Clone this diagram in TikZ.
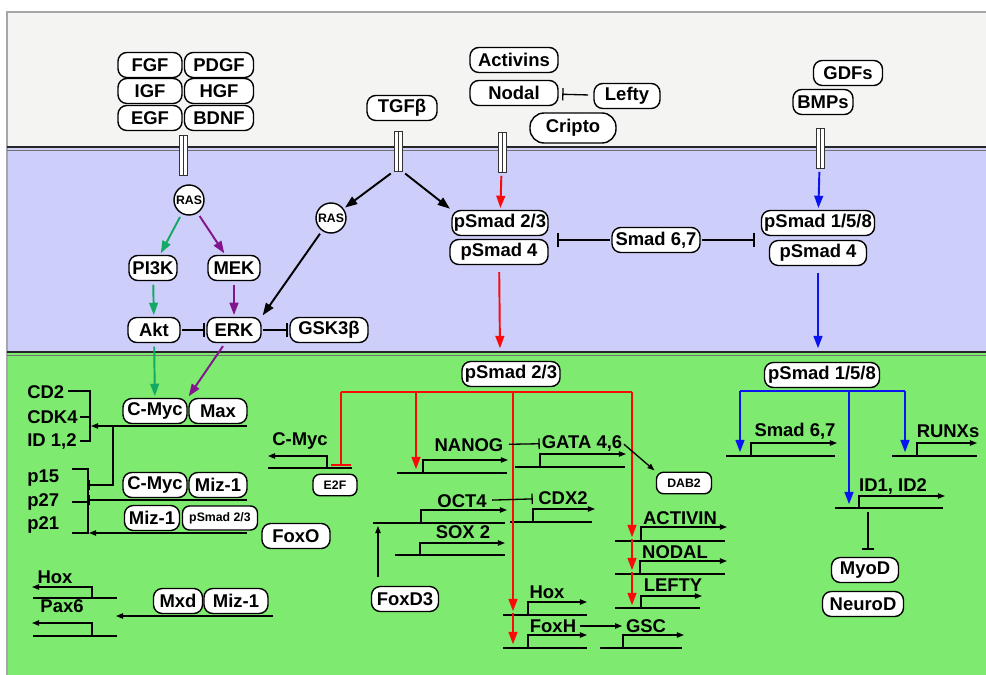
\documentclass[tikz,border=0pt]{standalone}
\usepackage{fontspec}
\setmainfont{Liberation Sans}
\usetikzlibrary{arrows.meta}
\definecolor{BGtop}{RGB}{244,244,242}
\definecolor{BGcyt}{RGB}{206,206,250}
\definecolor{BGnuc}{RGB}{126,234,112}
\definecolor{CG}{RGB}{20,170,100}
\definecolor{CP}{RGB}{130,20,140}
\definecolor{CR}{RGB}{250,10,10}
\definecolor{CB}{RGB}{10,20,240}

\begin{document}
\begin{tikzpicture}[x=0.02cm, y=-0.02cm,
  box/.style={draw, fill=white, rounded corners=5pt, line width=0.8pt, minimum height=0.5cm,
    inner sep=1pt, font=\fontsize{10.5}{12}\selectfont\bfseries},
  sbox/.style={box, font=\fontsize{7}{8}\selectfont\bfseries, minimum height=0.43cm, rounded corners=4pt},
  wd/.style={minimum width=#1*0.02cm},
  ras/.style={draw, fill=white, circle, line width=0.8pt, minimum size=0.6cm, inner sep=0pt,
    font=\fontsize{7}{8}\selectfont\bfseries},
  lbl/.style={font=\fontsize{10.5}{12}\selectfont\bfseries, inner sep=0pt},
  receptor/.style={draw=black!80, fill=white, line width=0.45pt, minimum width=0.16cm, minimum height=0.8cm,
    inner sep=0pt, path picture={\draw[black!80, line width=0.45pt] (path picture bounding box.north)
      -- (path picture bounding box.south);}},
  act/.style={-{Triangle[length=7pt,width=5pt]}, line width=1.1pt, shorten <=2pt, shorten >=1pt},
  inh/.style={-{Bar[width=8pt]}, line width=1.1pt, shorten <=1pt, shorten >=1pt},
  gline/.style={line width=0.75pt},
  thinact/.style={gline, -{Triangle[length=4pt,width=3pt]}},
  thininh/.style={gline, -{Bar[width=6pt]}},
]
\useasboundingbox (0,0) rectangle (986,675);
\fill[BGtop] (7,12) rectangle (986,148);
\fill[BGcyt] (7,148) rectangle (986,353);
\fill[BGnuc] (7,353) rectangle (986,675);
\draw[black!35, line width=0.6pt] (7,675) -- (7,12) -- (986,12);
\draw[black!85, line width=1pt] (7,147) -- (986,147);
\draw[black!55, line width=0.6pt] (7,150.5) -- (986,150.5);
\draw[black!85, line width=1pt] (7,352) -- (986,352);
\draw[black!55, line width=0.6pt] (7,355.5) -- (986,355.5);

\node[box, wd=64] (fgf) at (150,65) {FGF};
\node[box, wd=69] (pdgf) at (219,65) {PDGF};
\node[box, wd=64] (igf) at (150,91) {IGF};
\node[box, wd=69] (hgf) at (219,91) {HGF};
\node[box, wd=64] (egf) at (150,118) {EGF};
\node[box, wd=69] (bdnf) at (219,118) {BDNF};
\node[box, wd=70] (tgfb) at (402,108) {TGFβ};
\node[box, wd=88] (actv) at (514,60) {Activins};
\node[box, wd=88] (nodal) at (514,93) {Nodal};
\node[box, wd=66] (lefty) at (627,96) {Lefty};
\node[box, wd=86, minimum height=0.6cm, rounded corners=8pt] (cripto) at (573,128) {Cripto};
\node[box, wd=69] (gdf) at (848,73) {GDFs};
\node[box, wd=60] (bmp) at (823,102) {BMPs};

\node[receptor] (rec1) at (183,155) {};
\node[receptor] (rec2) at (398,151) {};
\node[receptor] (rec3) at (502,152) {};
\node[receptor] (rec4) at (820,148) {};

\node[ras] (ras1) at (189,200) {RAS};
\node[ras] (ras2) at (331,218) {RAS};
\node[box, wd=48] (pi3k) at (153,268) {PI3K};
\node[box, wd=52] (mek) at (234,268) {MEK};
\node[box, wd=52] (akt) at (154,330) {Akt};
\node[box, wd=54] (erk) at (234,330) {ERK};
\node[box, wd=78] (gsk) at (329,330) {GSK3β};
\node[box, wd=96] (psA) at (500,223) {pSmad 2/3};
\node[box, wd=98] (ps4A) at (499,252) {pSmad 4};
\node[box, wd=88] (smad67) at (656,240) {Smad 6,7};
\node[box, wd=113] (psB) at (818,223) {pSmad 1/5/8};
\node[box, wd=97] (ps4B) at (818,253) {pSmad 4};

\node[box, wd=98] (psC) at (511,374) {pSmad 2/3};
\node[box, wd=115] (psD) at (822,375) {pSmad 1/5/8};
\node[box, wd=64] (cmyc1) at (155,411) {C-Myc};
\node[box, wd=58] (max) at (218,411) {Max};
\node[box, wd=64] (cmyc2) at (155,485) {C-Myc};
\node[box, wd=58] (miz1) at (218,485) {Miz-1};
\node[box, wd=55] (miz2) at (152,518) {Miz-1};
\node[sbox, wd=75, minimum height=0.48cm] (psE) at (220,518) {pSmad 2/3};
\node[box, wd=68] (foxo) at (296,536) {FoxO};
\node[box, wd=49] (mxd) at (178,601) {Mxd};
\node[box, wd=64] (miz3) at (236,601) {Miz-1};
\node[sbox, wd=44] (e2f) at (335,485) {E2F};
\node[sbox, wd=55] (dab2) at (684,483) {DAB2};
\node[box, wd=67] (foxd3) at (405,599) {FoxD3};
\node[box, wd=67] (myod) at (865,570) {MyoD};
\node[box, wd=81] (neurod) at (863,604) {NeuroD};

\node[lbl, anchor=west] (cd2) at (27,392) {CD2};
\node[lbl, anchor=west] (cdk4) at (27,417) {CDK4};
\node[lbl, anchor=west] (id12L) at (27,441) {ID 1,2};
\node[lbl, anchor=west] (p15) at (27,478) {p15};
\node[lbl, anchor=west] (p27) at (27,502) {p27};
\node[lbl, anchor=west] (p21) at (27,525) {p21};
\node[lbl] (hoxL) at (55,577) {Hox};
\node[lbl] (pax6) at (62,606) {Pax6};
\node[lbl] (cmycG) at (300,441) {C-Myc};
\node[lbl] (nanog) at (469,445) {NANOG};
\node[lbl] (gata) at (582,443) {GATA 4,6};
\node[lbl] (oct4) at (462,501) {OCT4};
\node[lbl] (cdx2) at (563,498) {CDX2};
\node[lbl] (sox2) at (463,532) {SOX 2};
\node[lbl] (hoxM) at (547,592) {Hox};
\node[lbl] (foxh) at (553,626) {FoxH};
\node[lbl] (gsc) at (646,626) {GSC};
\node[lbl] (activin) at (680,518) {ACTIVIN};
\node[lbl] (nodalG) at (675,552) {NODAL};
\node[lbl] (leftyG) at (673,585) {LEFTY};
\node[lbl] (smadG) at (795,431) {Smad 6,7};
\node[lbl] (runx) at (948,431) {RUNXs};
\node[lbl] (id12) at (893,486) {ID1, ID2};

\foreach \xa/\xb/\xp/\yb/\ya/\xe in {397/507/423/473/460/508, 515/625/540/467/454/626,
    373/505/421/523/510/507, 510/592/533/522/509/595, 395/505/420/555/543/505,
    503/587/528/615/602/587, 503/587/528/648/635/587, 600/682/623/648/635/684,
    615/725/641/541/527/727, 615/725/640/574/561/727, 615/700/641/608/596/702,
    726/835/751/456/443/837, 892/977/917/456/443/977, 835/943/859/508/496/945,
    268/352/327/468/456/268, 33/117/92/598/587/32, 33/117/92/636/623/32}{
  \draw[gline] (\xa,\yb) -- (\xb,\yb);
  \draw[thinact] (\xp,\yb) |- (\xe,\ya);
}

\draw[gline] (68,391) -- (90,391) -- (90,441) -- (80,441);
\draw[gline] (80,417) -- (90,417);
\draw[gline] (72,469) -- (88,469) -- (88,533) -- (72,533);
\draw[gline] (72,502) -- (88,502);

\coordinate (cmA) at (247,426);
\coordinate (jA) at (113,426);
\coordinate (brA) at (91,426);
\coordinate (brB) at (89,485);
\coordinate (cmB) at (247,500);
\coordinate (brC) at (89,500);
\coordinate (cmC) at (247,533);
\coordinate (brD) at (89,533);
\coordinate (mxA) at (273,616);
\coordinate (pxT) at (116,616);
\coordinate (iA) at (555,240);
\coordinate (iB) at (757,240);
\coordinate (nucR) at (500,350);
\coordinate (nucB) at (818,350);
\coordinate (rA) at (341,392);
\coordinate (rB) at (416,392);
\coordinate (rC) at (513,392);
\coordinate (rD) at (632,392);
\coordinate (tE2F) at (341,466);
\coordinate (tNanog) at (416,471);
\coordinate (tHox) at (513,613);
\coordinate (tFoxH) at (513,646);
\coordinate (tAct) at (632,539);
\coordinate (tNod) at (632,572);
\coordinate (tLef) at (632,607);
\coordinate (bA) at (740,391);
\coordinate (bB) at (849,391);
\coordinate (bC) at (905,391);
\coordinate (tSm) at (740,454);
\coordinate (tId) at (849,506);
\coordinate (tRun) at (905,454);
\coordinate (tFox) at (378,526);
\coordinate (idS) at (868,512);

\draw[act, CG] (ras1) -- (pi3k);
\draw[act, CP] (ras1) -- (mek);
\draw[act, CG] (pi3k) -- (akt);
\draw[act, CP] (mek) -- (erk);
\draw[inh] (akt) -- (erk);
\draw[inh] (erk) -- (gsk);
\draw[act] (rec2.south west) -- (ras2);
\draw[act] (rec2.south east) -- (psA.north west);
\draw[act] (ras2) -- (erk.north east);
\draw[act, CG] (akt) -- (cmyc1);
\draw[act, CP] (erk) -- (cmyc1.north east);
\draw[gline, -{Bar[width=7pt]}, shorten <=3pt, shorten >=2pt] (lefty) -- (nodal);

\draw[act, CR] (rec3) -- (psA);
\draw[act, CR, shorten <=4pt] (ps4A) -- (nucR);
\draw[act, CB] (rec4) -- (psB);
\draw[act, CB, shorten <=4pt] (ps4B) -- (nucB);
\draw[inh] (smad67) -- (iA);
\draw[inh] (smad67) -- (iB);

\draw[thinact] (cmA) -- (brA);
\draw[thininh] (jA) |- (brB);
\draw[thininh] (cmB) -- (brC);
\draw[thinact] (cmC) -- (brD);
\draw[thinact] (mxA) -- (pxT);

\draw[CR, line width=1.1pt] (rA) -- (rD);
\draw[CR, line width=1.1pt, -{Bar[width=11pt]}] (rA) -- (tE2F);
\draw[act, CR, shorten <=0pt] (rB) -- (tNanog);
\draw[act, CR, shorten <=0pt] (rC) -- (tHox);
\draw[act, CR, shorten <=0pt] (tHox) -- (tFoxH);
\draw[act, CR, shorten <=0pt] (rD) -- (tAct);
\draw[act, CR, shorten <=0pt] (tAct) -- (tNod);
\draw[act, CR, shorten <=0pt] (tNod) -- (tLef);

\draw[CB, line width=1.1pt] (bA) -- (bC);
\draw[act, CB, shorten <=0pt] (bA) -- (tSm);
\draw[act, CB, shorten <=0pt] (bB) -- (tId);
\draw[act, CB, shorten <=0pt] (bC) -- (tRun);

\draw[thininh, shorten <=3pt, shorten >=1pt] (nanog) -- (gata);
\draw[thininh, shorten <=3pt, shorten >=3pt] (oct4) -- (cdx2);
\draw[thinact, shorten <=2pt, shorten >=2pt] (foxh) -- (gsc);
\draw[thinact, shorten <=1pt, shorten >=1pt] (gata.east) -- (dab2.north west);
\draw[thinact, shorten <=5pt] (foxd3.north -| tFox) -- (tFox);
\draw[gline, -{Bar[width=7pt]}, shorten >=4pt] (idS) -- (myod.north -| idS);
\end{tikzpicture}
\end{document}
